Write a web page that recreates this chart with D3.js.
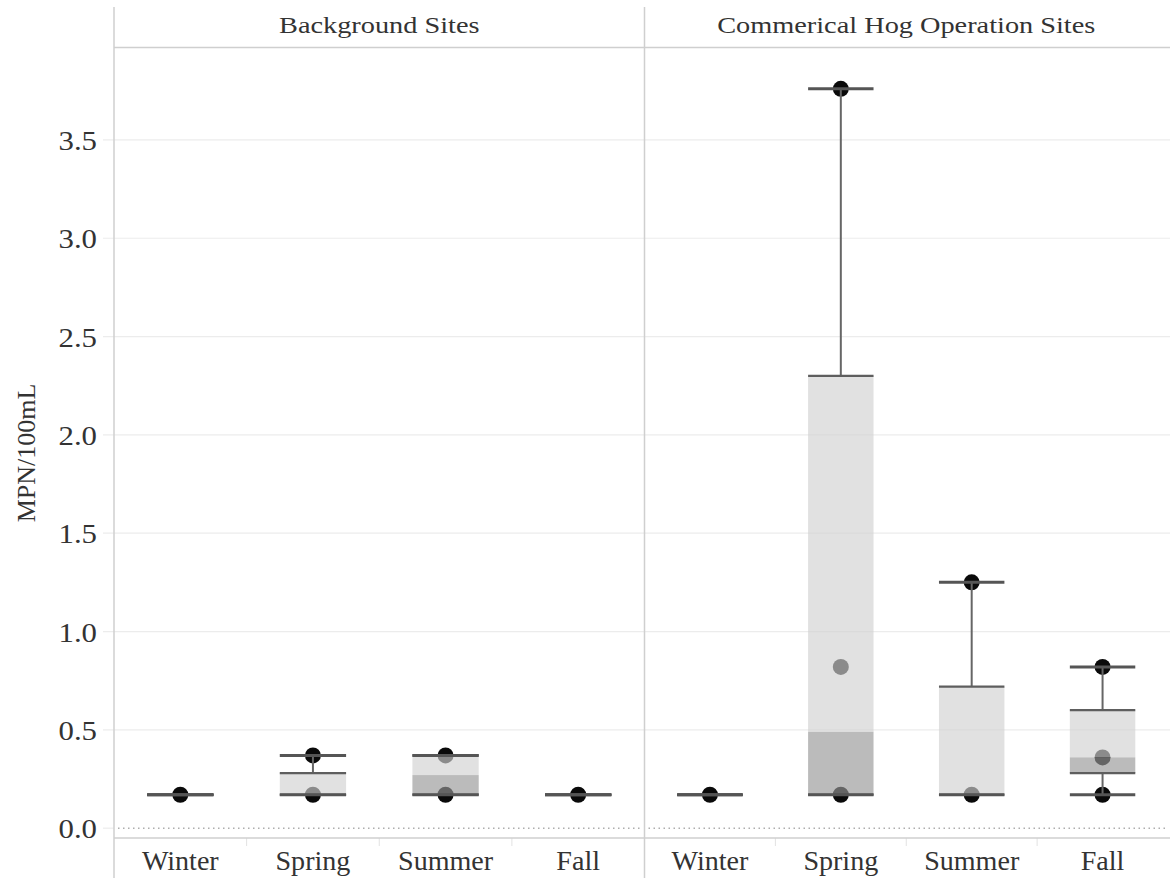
<!DOCTYPE html>
<html>
<head>
<meta charset="utf-8">
<script src="https://cdn.jsdelivr.net/npm/d3@7"></script>
<style>
  html, body { margin: 0; padding: 0; background: #fff; }
  svg { display: block; }
  text { font-family: "Liberation Serif", "Times New Roman", serif; fill: #333; }
</style>
</head>
<body>
<svg id="chart" width="1170" height="878"></svg>
<script>
// ---- data ----
const panels = ["Background Sites", "Commerical Hog Operation Sites"];
const seasons = ["Winter", "Spring", "Summer", "Fall"];
const yTicks = [0, 0.5, 1.0, 1.5, 2.0, 2.5, 3.0, 3.5];
const yTitle = "MPN/100mL";

// box statistics, one value per season
const bgMin    = [0.17, 0.17, 0.17, 0.17];
const bgQ1     = [0.17, 0.17, 0.17, 0.17];
const bgMedian = [0.17, 0.17, 0.27, 0.17];
const bgQ3     = [0.17, 0.28, 0.37, 0.17];
const bgMax    = [0.17, 0.37, 0.37, 0.17];

const hogMin    = [0.17, 0.17, 0.17, 0.17];
const hogQ1     = [0.17, 0.17, 0.17, 0.28];
const hogMedian = [0.17, 0.49, 0.17, 0.36];
const hogQ3     = [0.17, 2.30, 0.72, 0.60];
const hogMax    = [0.17, 3.76, 1.25, 0.82];

// individual observations per season
const bgPoints  = [[0.17], [0.17, 0.37], [0.17, 0.37], [0.17]];
const hogPoints = [[0.17], [0.17, 0.82, 3.76], [0.17, 1.25], [0.17, 0.36, 0.82]];

// ---- build ----
const stats = [
  {min: bgMin, q1: bgQ1, med: bgMedian, q3: bgQ3, max: bgMax, pts: bgPoints},
  {min: hogMin, q1: hogQ1, med: hogMedian, q3: hogQ3, max: hogMax, pts: hogPoints}
];

const W = 1170, H = 878;
const axisX = 114, divX = 644.5, rightX = 1168;
const headerTop = 7, headerBottom = 47.5, plotBottom = 838;

const svg = d3.select("#chart");

const y = d3.scaleLinear().domain([-0.05, 3.97]).range([plotBottom, headerBottom]);
const panelRanges = [[axisX, divX], [divX, rightX]];

function stretchText(g, str, x, yy, size, sx, anchor) {
  return g.append("text")
    .attr("transform", `translate(${x},${yy}) scale(${sx},1)`)
    .attr("text-anchor", anchor)
    .style("font-size", size + "px")
    .text(str);
}

// gridlines + y tick marks
const grid = svg.append("g");
grid.selectAll("line").data(yTicks.filter(d => d > 0)).join("line")
  .attr("x1", 103).attr("x2", W)
  .attr("y1", d => y(d)).attr("y2", d => y(d))
  .attr("stroke", "#ececec").attr("stroke-width", 1.2);
grid.append("line")
  .attr("x1", 103).attr("x2", axisX)
  .attr("y1", y(0)).attr("y2", y(0))
  .attr("stroke", "#ececec").attr("stroke-width", 1.2);

// y axis labels
const yAxisG = svg.append("g");
yTicks.forEach(t => {
  stretchText(yAxisG, d3.format(".1f")(t), 97, y(t) + 10, 28, 1.1, "end");
});

// y title
svg.append("text")
  .attr("transform", `translate(35,453) rotate(-90)`)
  .attr("text-anchor", "middle")
  .style("font-size", "26px")
  .text(yTitle);

// panels
panels.forEach((p, pi) => {
  const [x0, x1] = panelRanges[pi];
  const x = d3.scaleBand().domain(seasons).range([x0, x1]).paddingInner(0).paddingOuter(0);
  const bw = x.bandwidth() * 0.5;
  const s = stats[pi];
  const g = svg.append("g");

  // zero dotted line
  g.append("line")
    .attr("x1", x0 + 4).attr("x2", x1 - 2)
    .attr("y1", y(0)).attr("y2", y(0))
    .attr("stroke", "#adadad").attr("stroke-width", 1.5)
    .attr("stroke-dasharray", "1.5,3.5");

  // header title
  stretchText(g, p, (x0 + x1) / 2, 33, 24, 1.18, "middle");

  // category separator ticks
  g.selectAll("line.sep").data(seasons.slice(1)).join("line")
    .attr("class", "sep")
    .attr("x1", d => x(d)).attr("x2", d => x(d))
    .attr("y1", plotBottom).attr("y2", plotBottom + 8)
    .attr("stroke", "#e2e2e2").attr("stroke-width", 1);

  // x labels
  seasons.forEach(se => {
    stretchText(g, se, x(se) + x.bandwidth() / 2, 870, 27, 1.04, "middle");
  });

  // points (drawn first, under boxes)
  seasons.forEach((se, i) => {
    const cx = x(se) + x.bandwidth() / 2;
    g.selectAll(null).data(s.pts[i]).join("circle")
      .attr("cx", cx).attr("cy", d => y(d)).attr("r", 8)
      .attr("fill", "#0a0a0a");
  });

  // boxes
  seasons.forEach((se, i) => {
    const cx = x(se) + x.bandwidth() / 2;
    const bx = cx - bw / 2;
    // upper box: median -> q3 (light)
    g.append("rect")
      .attr("x", bx).attr("width", bw)
      .attr("y", y(s.q3[i])).attr("height", Math.max(0, y(s.med[i]) - y(s.q3[i])))
      .attr("fill", "rgb(209,209,209)").attr("fill-opacity", 0.65);
    // lower box: q1 -> median (dark)
    g.append("rect")
      .attr("x", bx).attr("width", bw)
      .attr("y", y(s.med[i])).attr("height", Math.max(0, y(s.q1[i]) - y(s.med[i])))
      .attr("fill", "rgb(150,150,150)").attr("fill-opacity", 0.65);
    // whiskers
    if (s.max[i] > s.q3[i]) {
      g.append("line")
        .attr("x1", cx).attr("x2", cx)
        .attr("y1", y(s.max[i])).attr("y2", y(s.q3[i]))
        .attr("stroke", "#666").attr("stroke-width", 2);
    }
    if (s.min[i] < s.q1[i]) {
      g.append("line")
        .attr("x1", cx).attr("x2", cx)
        .attr("y1", y(s.q1[i])).attr("y2", y(s.min[i]))
        .attr("stroke", "#666").attr("stroke-width", 2);
    }
    // hinge lines
    [s.q1[i], s.q3[i]].forEach(v => {
      g.append("line")
        .attr("x1", bx).attr("x2", bx + bw)
        .attr("y1", y(v)).attr("y2", y(v))
        .attr("stroke", "#5e5e5e").attr("stroke-width", 2.2);
    });
    // whisker caps
    [s.min[i], s.max[i]].forEach(v => {
      g.append("line")
        .attr("x1", bx).attr("x2", bx + bw)
        .attr("y1", y(v)).attr("y2", y(v))
        .attr("stroke", "#555").attr("stroke-width", 3);
    });
  });
});

// frame lines
const frame = svg.append("g").attr("stroke", "#cfcfcf").attr("stroke-width", 1.5);
frame.append("line").attr("x1", axisX).attr("x2", axisX).attr("y1", headerTop).attr("y2", H);
frame.append("line").attr("x1", divX).attr("x2", divX).attr("y1", headerTop).attr("y2", H);
frame.append("line").attr("x1", axisX).attr("x2", W).attr("y1", headerBottom).attr("y2", headerBottom);
frame.append("line").attr("x1", axisX).attr("x2", W).attr("y1", plotBottom).attr("y2", plotBottom);
</script>
</body>
</html>
